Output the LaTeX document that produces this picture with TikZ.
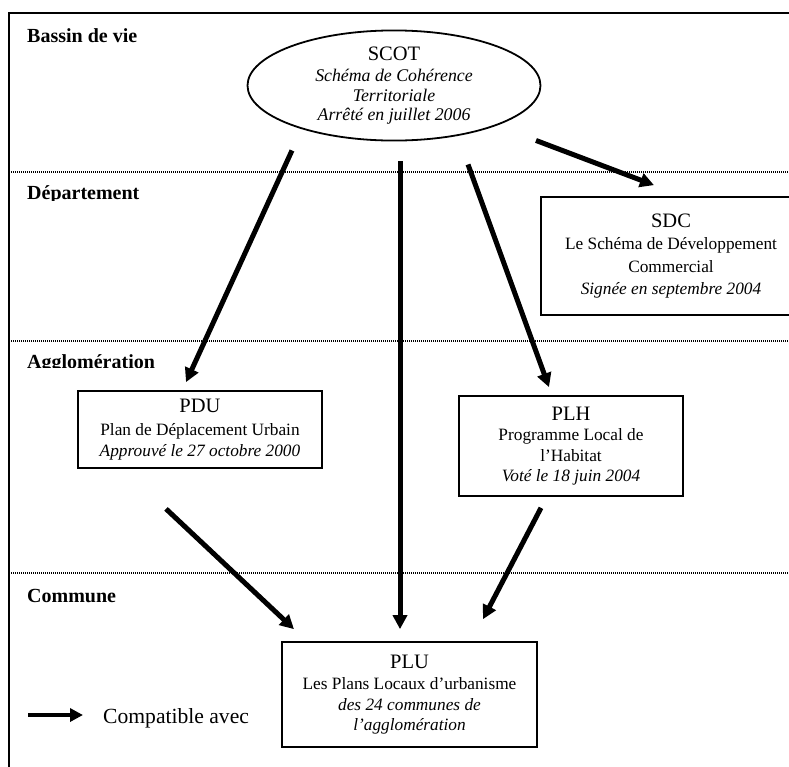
\documentclass[tikz,border=0pt]{standalone}
\usepackage{fontspec}
\setmainfont{Liberation Serif}
\usetikzlibrary{arrows.meta,positioning,shapes.geometric}
\newcommand{\doctitle}{\fontsize{20.5}{22}\selectfont}

\begin{document}
\begin{tikzpicture}[
    x=1pt, y=-1pt,
    docbox/.style={draw, line width=1.7pt, align=center, inner sep=0pt,
                   font=\fontsize{17.3}{20.5}\selectfont},
    level/.style={anchor=base west, inner sep=0pt,
                  font=\fontsize{20}{22}\selectfont\bfseries},
    compat/.style={-{Triangle[length=14pt,width=14pt]}, line width=5pt},
    separator/.style={line width=1.5pt, dash pattern=on 1pt off 1pt},
  ]
  \useasboundingbox (0,0) rectangle (789,766);
  \clip (0,0) rectangle (789,766);

  % === Frame and levels ===
  \draw[line width=1.8pt] (9,780) -- (9,13) -- (800,13);
  \foreach \y in {172,341,573}
    \draw[separator] (9,\y) -- (800,\y);

  \node[level] (bassin) at (27,42) {Bassin de vie};
  \begin{scope}
    \clip (12,175) rectangle (300,200);
    \node[level] (departement) at (27,199) {Département};
  \end{scope}
  \begin{scope}
    \clip (12,344) rectangle (300,367);
    \node[level] (agglo) at (27,368) {Agglomération};
  \end{scope}
  \node[level] (commune) at (27,602) {Commune};

  % === Documents ===
  \node[ellipse, draw, line width=1.8pt, minimum width=293pt, minimum height=109pt,
        inner sep=0pt, align=center, font=\fontsize{17.8}{19.5}\selectfont]
    (scot) at (394,85.5)
    {{\doctitle SCOT}\\[2pt] \textit{Schéma de Cohérence}\\ \textit{Territoriale}\\
     \textit{Arrêté en juillet 2006}};

  \node[docbox, minimum width=260pt, minimum height=118pt,
        font=\fontsize{17.3}{22.5}\selectfont] (sdc) at (671,256)
    {{\doctitle SDC}\\ Le Schéma de Développement\\ Commercial\\
     \textit{Signée en septembre 2004}};

  \node[docbox, minimum width=244pt, minimum height=77pt] (pdu) at (200,429.5)
    {{\doctitle PDU}\\[3pt] Plan de Déplacement Urbain\\ \textit{Approuvé le 27 octobre 2000}};

  \node[docbox, minimum width=224pt, minimum height=100pt] (plh) at (571,446)
    {{\doctitle PLH}\\ Programme Local de\\ l’Habitat\\ \textit{Voté le 18 juin 2004}};

  \node[docbox, minimum width=255pt, minimum height=105pt] (plu) at (409.5,694.5)
    {{\doctitle PLU}\\[1pt] Les Plans Locaux d’urbanisme\\ \textit{des 24 communes de}\\
     \textit{l’agglomération}};

  % === Compatibility arrows ===
  \draw[compat] ([xshift=-102pt,yshift=-9pt]scot.south) -- ([xshift=-14pt,yshift=8pt]pdu.north);
  \draw[compat] ([xshift=6pt,yshift=-20pt]scot.south) -- ([xshift=-9.5pt,yshift=12pt]plu.north);
  \draw[compat] ([xshift=74pt,yshift=-23pt]scot.south) -- ([xshift=-22pt,yshift=8pt]plh.north);
  \draw[compat] ([xshift=142pt,yshift=1pt]scot.south) -- ([xshift=-17pt,yshift=11pt]sdc.north);
  \draw[compat] ([xshift=-34pt,yshift=-40pt]pdu.south) -- ([xshift=-115.5pt,yshift=12pt]plu.north);
  \draw[compat] ([xshift=-30pt,yshift=-11pt]plh.south) -- ([xshift=73.5pt,yshift=22pt]plu.north);

  % === Legend ===
  \coordinate (legstart) at (28,715);
  \node[anchor=base west, inner sep=0pt, font=\fontsize{21.6}{24}\selectfont]
    (legend) at (103,723) {Compatible avec};
  \draw[compat, -{Triangle[length=13pt,width=13pt]}, line width=4.5pt]
    (legstart) -- ([xshift=-20pt]legend.west |- legstart);
\end{tikzpicture}
\end{document}
